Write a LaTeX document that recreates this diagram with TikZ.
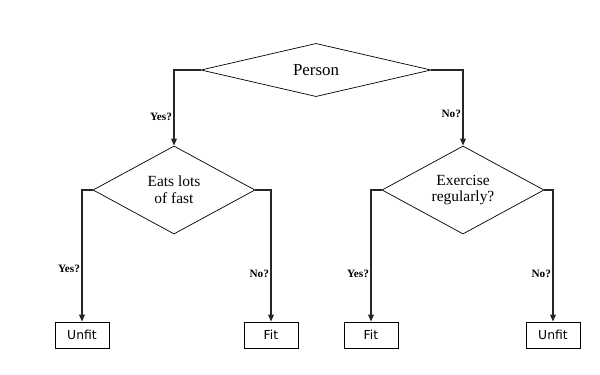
\documentclass[tikz,border=0pt]{standalone}
\usepackage{fontspec}
\setmainfont{Liberation Serif}
\newfontfamily\boxfont{DejaVu Sans}
\usetikzlibrary{arrows.meta,positioning,shapes.geometric}

\begin{document}
\begin{tikzpicture}[x=0.025cm, y=-0.025cm, >={Triangle[width=4pt,length=5pt]},
  decision/.style={draw, diamond, aspect=1.8, inner sep=0pt, align=center,
    line width=0.5pt, font=\fontsize{11}{12}\selectfont},
  leaf/.style={draw, rectangle, minimum width=1.35cm, minimum height=0.65cm,
    inner sep=0pt, line width=0.5pt, font=\boxfont\fontsize{8.8}{10}\selectfont},
  arr/.style={->, line width=1pt, color=black!85},
  lbl/.style={font=\bfseries\fontsize{8}{9}\selectfont, inner sep=1pt, color=black}
]
\useasboundingbox (0,0) rectangle (600,375);

% Root question
\node[decision, aspect=4, minimum width=5.75cm, minimum height=1.33cm,
  font=\fontsize{12}{13}\selectfont] (person) at (316,70) {Person};

% Second level
\node[decision, minimum width=4.05cm, minimum height=2.2cm] (eats) at (174,190) {Eats lots\\of fast};
\node[decision, minimum width=4.05cm, minimum height=2.2cm] (exercise) at (463,190) {Exercise\\regularly?};

% Outcomes
\node[leaf] (unfitA) at (82,335) {Unfit};
\node[leaf] (fitA) at (271,335) {Fit};
\node[leaf] (fitB) at (371,335) {Fit};
\node[leaf] (unfitB) at (553,335) {Unfit};

\draw[arr] (person.west) -| node[lbl, left, pos=0.81] (yesA) {Yes?} (eats.north);
\draw[arr] (person.east) -| node[lbl, left, pos=0.79] (noA) {No?} (exercise.north);

\draw[arr] (eats.west) -| node[lbl, left, pos=0.80] (yesB) {Yes?} (unfitA.north);
\draw[arr] (eats.east) -| node[lbl, left, pos=0.82] (noB) {No?} (fitA.north);

\draw[arr] (exercise.west) -| node[lbl, left, pos=0.82] (yesC) {Yes?} (fitB.north);
\draw[arr] (exercise.east) -| node[lbl, left, pos=0.82] (noC) {No?} (unfitB.north);
\end{tikzpicture}
\end{document}
